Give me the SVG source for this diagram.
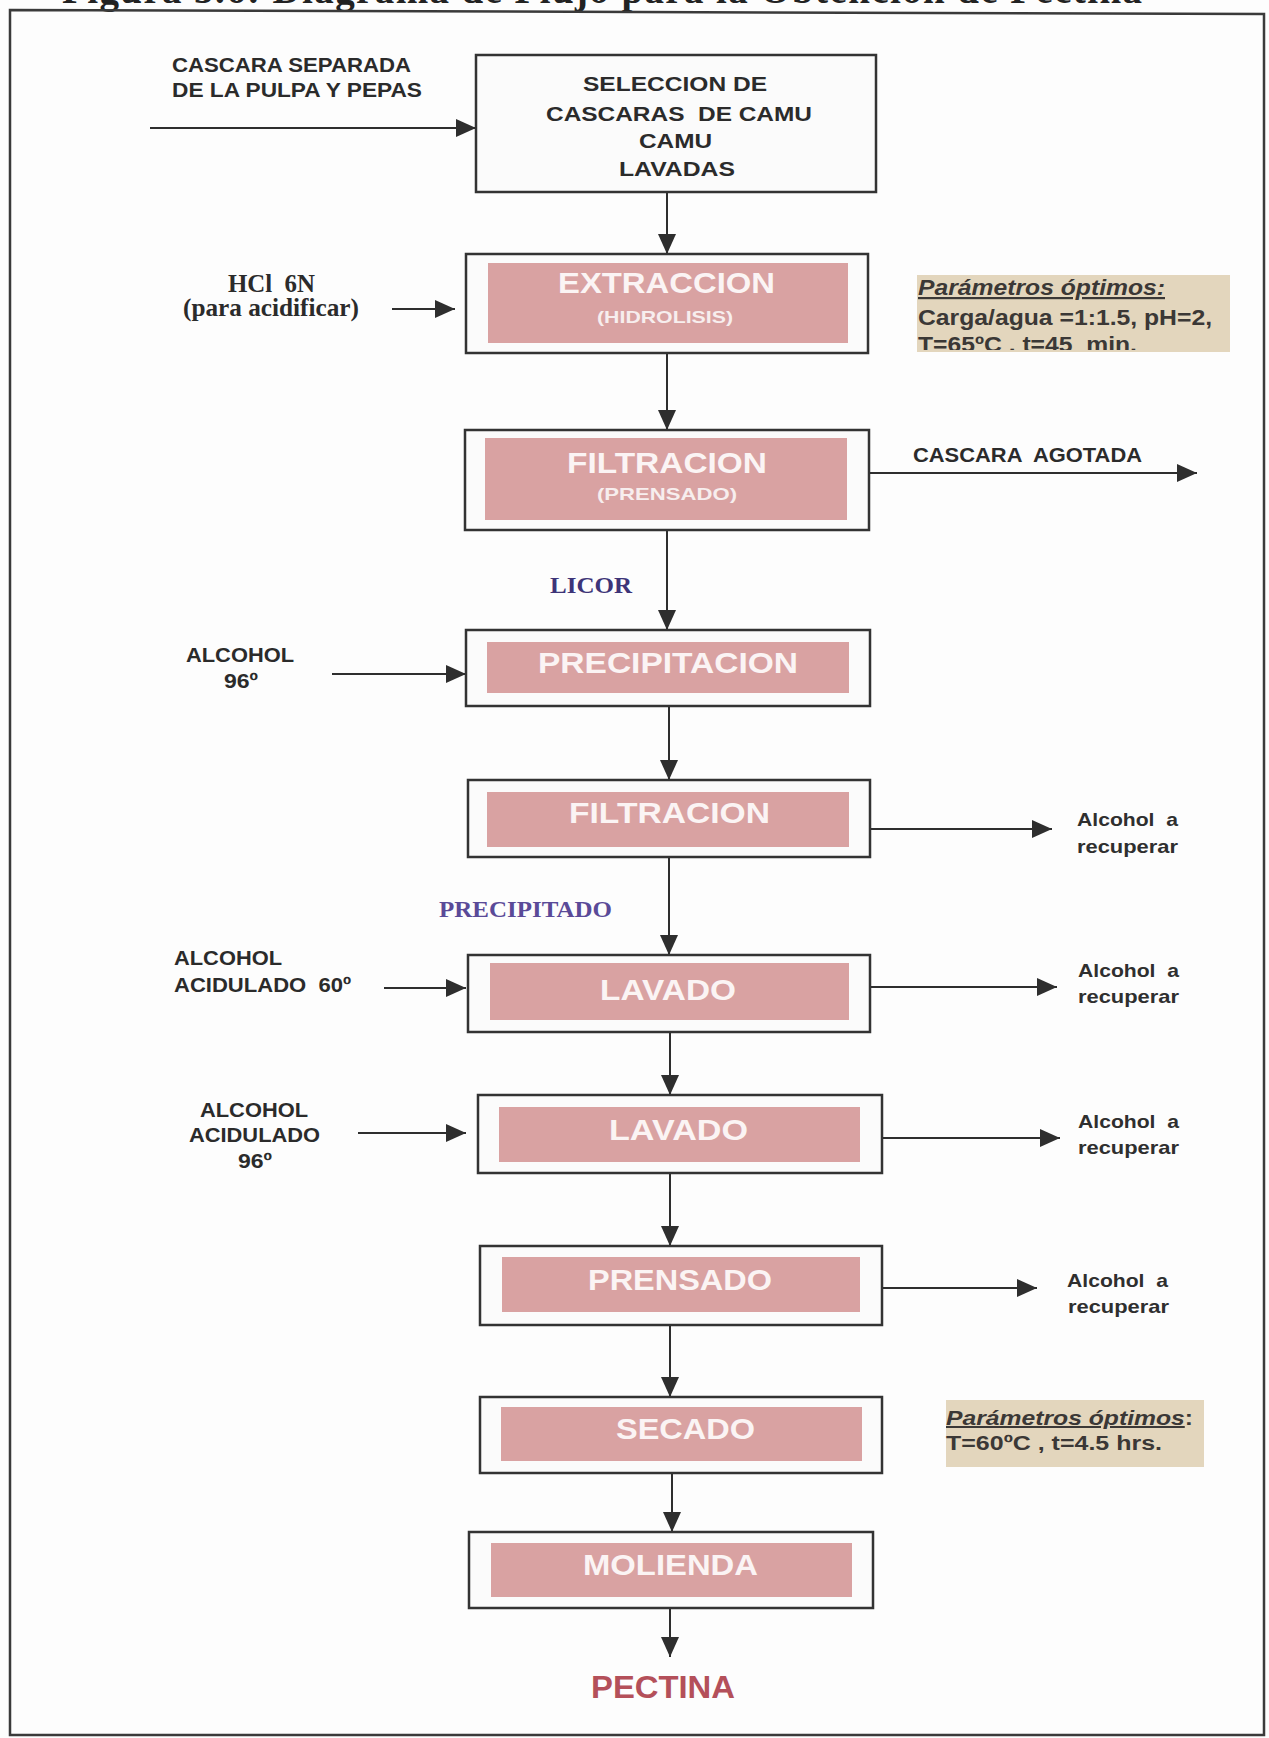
<svg xmlns="http://www.w3.org/2000/svg" width="1269" height="1738" viewBox="0 0 1269 1738">
  <defs>
    <marker id="arr" viewBox="0 0 20 18" refX="20" refY="9" markerWidth="20" markerHeight="18" markerUnits="userSpaceOnUse" orient="auto">
      <path d="M0,0 L20,9 L0,18 Z" fill="#2e2e2e"/>
    </marker>
    <clipPath id="clipParam1">
      <rect x="917" y="275" width="313" height="75"/>
    </clipPath>
  </defs>
  <style>
    .frame { fill: none; stroke: #3a3a3a; stroke-width: 2.5; }
    .box { fill: #fbfbfb; stroke: #333333; stroke-width: 2.5; }
    .pink { fill: #d9a2a2; }
    .note { fill: #e3d6bd; }
    .sans { font-family: "Liberation Sans", Arial, sans-serif; font-weight: bold; }
    .serif { font-family: "Liberation Serif", "Times New Roman", serif; font-weight: bold; }
    .step { font-size: 30px; fill: #fbf4f4; }
    .sub { font-size: 17px; fill: #f7eeee; }
    .lbl { font-size: 21px; fill: #2b2b2b; }
    .in { font-size: 20px; fill: #2b2b2b; }
    .out { font-size: 19px; fill: #2f2f2f; }
    .par { font-size: 22px; fill: #3b3836; }
    .par2 { font-size: 20px; fill: #3b3836; }
    .link { stroke: #2e2e2e; stroke-width: 2; fill: none; marker-end: url(#arr); }
  </style>

  <rect x="0" y="0" width="1269" height="1738" fill="#fdfdfd"/>

  <!-- caption, mostly above the page edge -->
  <text class="serif" x="62" y="3" font-size="39" fill="#222" textLength="1080" lengthAdjust="spacing">Figura 3.6: Diagrama de Flujo para la Obtención de Pectina</text>

  <!-- page frame -->
  <path class="frame" d="M10,10 L1264,14 L1264,1735 L10,1735 Z"/>

  <!-- connectors -->
  <g id="connectors">
    <line class="link" x1="150" y1="128" x2="476" y2="128"/>
    <line class="link" x1="667" y1="192" x2="667" y2="254"/>
    <line class="link" x1="392" y1="309" x2="455" y2="309"/>
    <line class="link" x1="667" y1="353" x2="667" y2="430"/>
    <line class="link" x1="869" y1="473" x2="1197" y2="473"/>
    <line class="link" x1="667" y1="530" x2="667" y2="630"/>
    <line class="link" x1="332" y1="674" x2="466" y2="674"/>
    <line class="link" x1="669" y1="706" x2="669" y2="780"/>
    <line class="link" x1="870" y1="829" x2="1052" y2="829"/>
    <line class="link" x1="669" y1="857" x2="669" y2="955"/>
    <line class="link" x1="384" y1="988" x2="466" y2="988"/>
    <line class="link" x1="870" y1="987" x2="1057" y2="987"/>
    <line class="link" x1="670" y1="1032" x2="670" y2="1095"/>
    <line class="link" x1="358" y1="1133" x2="466" y2="1133"/>
    <line class="link" x1="882" y1="1138" x2="1060" y2="1138"/>
    <line class="link" x1="670" y1="1173" x2="670" y2="1246"/>
    <line class="link" x1="882" y1="1288" x2="1037" y2="1288"/>
    <line class="link" x1="670" y1="1325" x2="670" y2="1397"/>
    <line class="link" x1="672" y1="1473" x2="672" y2="1532"/>
    <line class="link" x1="670" y1="1608" x2="670" y2="1657"/>
  </g>

  <!-- raw material input -->
  <g id="input-cascara">
    <text class="sans lbl" x="172" y="72" textLength="239" lengthAdjust="spacingAndGlyphs">CASCARA SEPARADA</text>
    <text class="sans lbl" x="172" y="97" textLength="250" lengthAdjust="spacingAndGlyphs">DE LA PULPA Y PEPAS</text>
  </g>

  <g id="node-seleccion">
    <rect class="box" x="476" y="55" width="400" height="137"/>
    <text class="sans lbl" x="583" y="91" font-size="22" textLength="184" lengthAdjust="spacingAndGlyphs">SELECCION DE</text>
    <text class="sans lbl" x="546" y="121" font-size="22" textLength="266" lengthAdjust="spacingAndGlyphs" xml:space="preserve">CASCARAS  DE CAMU</text>
    <text class="sans lbl" x="639" y="148" font-size="22" textLength="73" lengthAdjust="spacingAndGlyphs">CAMU</text>
    <text class="sans lbl" x="619" y="176" font-size="22" textLength="116" lengthAdjust="spacingAndGlyphs">LAVADAS</text>
  </g>

  <g id="input-hcl">
    <text class="serif" x="228" y="292" font-size="25" fill="#2b2b2b" textLength="87" lengthAdjust="spacingAndGlyphs" xml:space="preserve">HCl  6N</text>
    <text class="serif" x="183" y="316" font-size="25" fill="#2b2b2b" textLength="176" lengthAdjust="spacingAndGlyphs">(para acidificar)</text>
  </g>

  <g id="node-extraccion">
    <rect class="box" x="466" y="254" width="402" height="99"/>
    <rect class="pink" x="488" y="263" width="360" height="80"/>
    <text class="sans step" x="558" y="293" textLength="217" lengthAdjust="spacingAndGlyphs">EXTRACCION</text>
    <text class="sans sub" x="597" y="323" textLength="136" lengthAdjust="spacingAndGlyphs">(HIDROLISIS)</text>
  </g>

  <g id="note-extraccion">
    <rect class="note" x="917" y="275" width="313" height="77"/>
    <g clip-path="url(#clipParam1)">
      <text class="sans par" x="918" y="295" font-style="italic" text-decoration="underline" textLength="247" lengthAdjust="spacingAndGlyphs">Parámetros óptimos:</text>
      <text class="sans par" x="918" y="325" textLength="294" lengthAdjust="spacingAndGlyphs">Carga/agua =1:1.5, pH=2,</text>
      <text class="sans par" x="918" y="352" textLength="219" lengthAdjust="spacingAndGlyphs" xml:space="preserve">T=65ºC . t=45  min.</text>
    </g>
  </g>

  <g id="node-filtracion-1">
    <rect class="box" x="465" y="430" width="404" height="100"/>
    <rect class="pink" x="485" y="438" width="362" height="82"/>
    <text class="sans step" x="567" y="473" textLength="200" lengthAdjust="spacingAndGlyphs">FILTRACION</text>
    <text class="sans sub" x="597" y="500" textLength="140" lengthAdjust="spacingAndGlyphs">(PRENSADO)</text>
  </g>

  <g id="output-cascara">
    <text class="sans lbl" x="913" y="462" textLength="229" lengthAdjust="spacingAndGlyphs" xml:space="preserve">CASCARA  AGOTADA</text>
  </g>

  <g id="label-licor">
    <text class="serif" x="550" y="593" font-size="24" fill="#3d3478" textLength="82" lengthAdjust="spacingAndGlyphs">LICOR</text>
  </g>

  <g id="input-alcohol-96">
    <text class="sans in" x="186" y="662" textLength="108" lengthAdjust="spacingAndGlyphs">ALCOHOL</text>
    <text class="sans in" x="224" y="688" textLength="34" lengthAdjust="spacingAndGlyphs">96º</text>
  </g>

  <g id="node-precipitacion">
    <rect class="box" x="466" y="630" width="404" height="76"/>
    <rect class="pink" x="487" y="642" width="362" height="51"/>
    <text class="sans step" x="538" y="673" textLength="260" lengthAdjust="spacingAndGlyphs">PRECIPITACION</text>
  </g>

  <g id="node-filtracion-2">
    <rect class="box" x="468" y="780" width="402" height="77"/>
    <rect class="pink" x="487" y="792" width="362" height="55"/>
    <text class="sans step" x="569" y="823" textLength="201" lengthAdjust="spacingAndGlyphs">FILTRACION</text>
  </g>

  <g id="output-alcohol-1">
    <text class="sans out" x="1077" y="826" textLength="101" lengthAdjust="spacingAndGlyphs" xml:space="preserve">Alcohol  a</text>
    <text class="sans out" x="1077" y="853" textLength="101" lengthAdjust="spacingAndGlyphs">recuperar</text>
  </g>

  <g id="label-precipitado">
    <text class="serif" x="439" y="917" font-size="24" fill="#5a4a98" textLength="173" lengthAdjust="spacingAndGlyphs">PRECIPITADO</text>
  </g>

  <g id="input-alcohol-60">
    <text class="sans in" x="174" y="965" textLength="108" lengthAdjust="spacingAndGlyphs">ALCOHOL</text>
    <text class="sans in" x="174" y="992" textLength="177" lengthAdjust="spacingAndGlyphs" xml:space="preserve">ACIDULADO  60º</text>
  </g>

  <g id="node-lavado-1">
    <rect class="box" x="468" y="955" width="402" height="77"/>
    <rect class="pink" x="490" y="963" width="359" height="57"/>
    <text class="sans step" x="600" y="1000" textLength="136" lengthAdjust="spacingAndGlyphs">LAVADO</text>
  </g>

  <g id="output-alcohol-2">
    <text class="sans out" x="1078" y="977" textLength="101" lengthAdjust="spacingAndGlyphs" xml:space="preserve">Alcohol  a</text>
    <text class="sans out" x="1078" y="1003" textLength="101" lengthAdjust="spacingAndGlyphs">recuperar</text>
  </g>

  <g id="input-alcohol-acidulado-96">
    <text class="sans in" x="200" y="1117" textLength="108" lengthAdjust="spacingAndGlyphs">ALCOHOL</text>
    <text class="sans in" x="189" y="1142" textLength="131" lengthAdjust="spacingAndGlyphs">ACIDULADO</text>
    <text class="sans in" x="238" y="1168" textLength="34" lengthAdjust="spacingAndGlyphs">96º</text>
  </g>

  <g id="node-lavado-2">
    <rect class="box" x="478" y="1095" width="404" height="78"/>
    <rect class="pink" x="499" y="1107" width="361" height="55"/>
    <text class="sans step" x="609" y="1140" textLength="139" lengthAdjust="spacingAndGlyphs">LAVADO</text>
  </g>

  <g id="output-alcohol-3">
    <text class="sans out" x="1078" y="1128" textLength="101" lengthAdjust="spacingAndGlyphs" xml:space="preserve">Alcohol  a</text>
    <text class="sans out" x="1078" y="1154" textLength="101" lengthAdjust="spacingAndGlyphs">recuperar</text>
  </g>

  <g id="node-prensado">
    <rect class="box" x="480" y="1246" width="402" height="79"/>
    <rect class="pink" x="502" y="1257" width="358" height="55"/>
    <text class="sans step" x="588" y="1290" textLength="184" lengthAdjust="spacingAndGlyphs">PRENSADO</text>
  </g>

  <g id="output-alcohol-4">
    <text class="sans out" x="1067" y="1287" textLength="101" lengthAdjust="spacingAndGlyphs" xml:space="preserve">Alcohol  a</text>
    <text class="sans out" x="1068" y="1313" textLength="101" lengthAdjust="spacingAndGlyphs">recuperar</text>
  </g>

  <g id="node-secado">
    <rect class="box" x="480" y="1397" width="402" height="76"/>
    <rect class="pink" x="501" y="1407" width="361" height="54"/>
    <text class="sans step" x="616" y="1439" textLength="139" lengthAdjust="spacingAndGlyphs">SECADO</text>
  </g>

  <g id="note-secado">
    <rect class="note" x="946" y="1400" width="258" height="67"/>
    <text class="sans par2" x="946" y="1425" textLength="247" lengthAdjust="spacingAndGlyphs"><tspan font-style="italic" text-decoration="underline">Parámetros óptimos</tspan>:</text>
    <text class="sans par2" x="946" y="1450" textLength="216" lengthAdjust="spacingAndGlyphs">T=60ºC , t=4.5 hrs.</text>
  </g>

  <g id="node-molienda">
    <rect class="box" x="469" y="1532" width="404" height="76"/>
    <rect class="pink" x="491" y="1543" width="361" height="54"/>
    <text class="sans step" x="583" y="1575" textLength="175" lengthAdjust="spacingAndGlyphs">MOLIENDA</text>
  </g>

  <g id="product-pectina">
    <text class="sans" x="591" y="1698" font-size="32" fill="#b4505a" textLength="144" lengthAdjust="spacingAndGlyphs">PECTINA</text>
  </g>
</svg>
